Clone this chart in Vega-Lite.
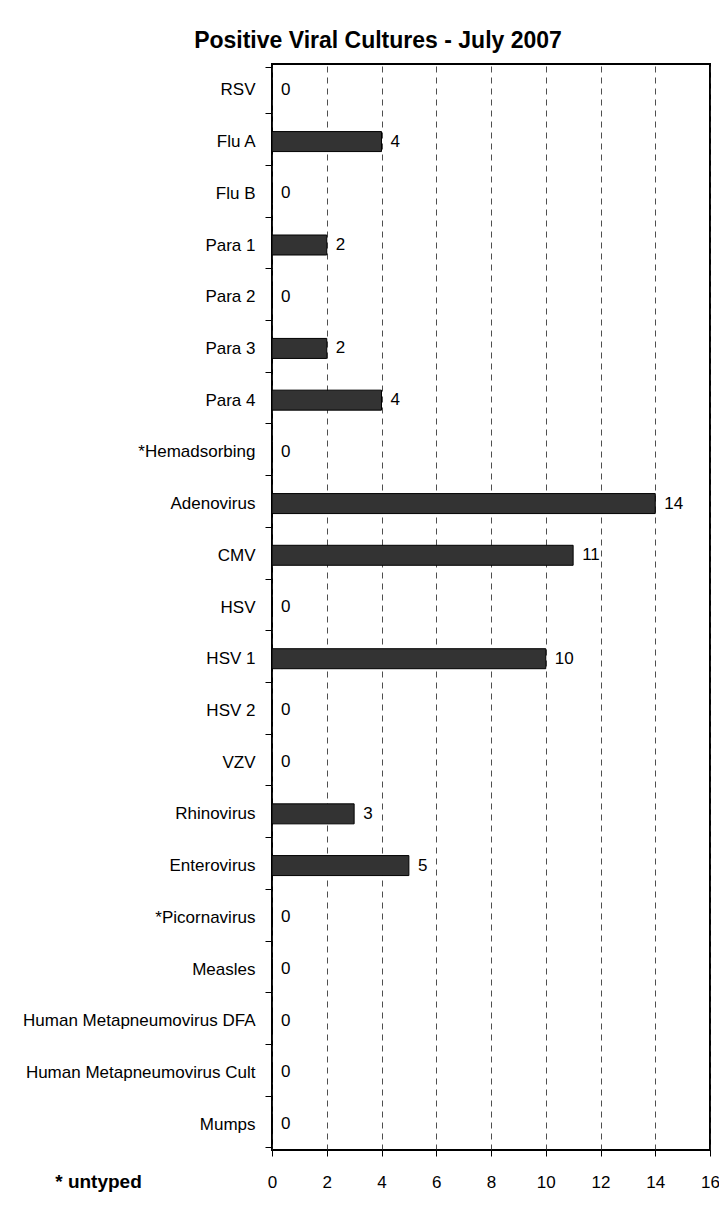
{
  "$schema": "https://vega.github.io/schema/vega-lite/v6.json",
  "width": 438,
  "height": 1086,
  "autosize": {"type": "none"},
  "padding": {"left": 272, "top": 64, "right": 9, "bottom": 61},
  "background": "white",
  "title": {
    "text": "Positive Viral Cultures - July 2007",
    "anchor": "middle",
    "frame": "group",
    "dx": -113,
    "offset": -16,
    "baseline": "alphabetic",
    "fontSize": 23,
    "font": "Liberation Sans",
    "fontWeight": "bold",
    "color": "black"
  },
  "config": {
    "font": "Liberation Sans",
    "view": {"stroke": "black", "strokeWidth": 2}
  },
  "data": {
    "values": [
      {"virus": "RSV", "count": 0},
      {"virus": "Flu A", "count": 4},
      {"virus": "Flu B", "count": 0},
      {"virus": "Para 1", "count": 2},
      {"virus": "Para 2", "count": 0},
      {"virus": "Para 3", "count": 2},
      {"virus": "Para 4", "count": 4},
      {"virus": "*Hemadsorbing", "count": 0},
      {"virus": "Adenovirus", "count": 14},
      {"virus": "CMV", "count": 11},
      {"virus": "HSV", "count": 0},
      {"virus": "HSV 1", "count": 10},
      {"virus": "HSV 2", "count": 0},
      {"virus": "VZV", "count": 0},
      {"virus": "Rhinovirus", "count": 3},
      {"virus": "Enterovirus", "count": 5},
      {"virus": "*Picornavirus", "count": 0},
      {"virus": "Measles", "count": 0},
      {"virus": "Human Metapneumovirus DFA", "count": 0},
      {"virus": "Human Metapneumovirus Cult", "count": 0},
      {"virus": "Mumps", "count": 0}
    ]
  },
  "encoding": {
    "y": {
      "field": "virus",
      "type": "nominal",
      "sort": null,
      "axis": {
        "title": null,
        "domain": false,
        "ticks": true,
        "tickBand": "extent",
        "tickSize": 7,
        "tickColor": "black",
        "tickWidth": 1,
        "labelFontSize": 17,
        "labelColor": "black",
        "labelPadding": 10,
        "labelLimit": 0,
        "grid": false
      }
    },
    "x": {
      "field": "count",
      "type": "quantitative",
      "scale": {"domain": [0, 16], "nice": false},
      "axis": {
        "values": [0, 2, 4, 6, 8, 10, 12, 14, 16],
        "grid": true,
        "gridColor": "#222222",
        "gridDash": [6, 5],
        "gridWidth": 0.8,
        "domain": false,
        "ticks": true,
        "tickSize": 6,
        "tickColor": "black",
        "labelFontSize": 17,
        "labelColor": "black",
        "labelPadding": 18,
        "labelFlush": false,
        "labelOverlap": false,
        "labelBound": false,
        "title": "* untyped",
        "titleFontSize": 19,
        "titleFontWeight": "bold",
        "titleColor": "black",
        "titleX": -174,
        "titleY": 31,
        "titleAlign": "center",
        "titleBaseline": "middle",
        "titleAngle": 0
      }
    }
  },
  "layer": [
    {
      "mark": {"type": "bar", "size": 20, "color": "#333333", "stroke": "black", "strokeWidth": 1}
    },
    {
      "mark": {"type": "text", "align": "left", "baseline": "middle", "dx": 9, "fontSize": 17, "color": "black"},
      "encoding": {"text": {"field": "count", "type": "quantitative"}}
    }
  ]
}
